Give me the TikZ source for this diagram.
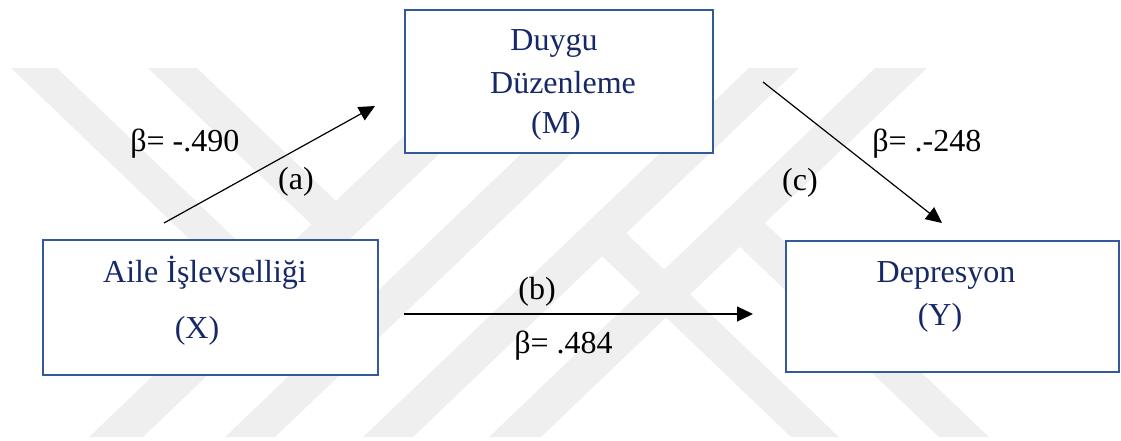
\documentclass[tikz,border=0pt]{standalone}
\usepackage{fontspec}
\setmainfont{Liberation Serif}
\usetikzlibrary{arrows.meta}
\definecolor{boxline}{RGB}{52,88,156}
\definecolor{boxtext}{RGB}{22,40,102}
\definecolor{mark}{RGB}{239,239,239}
\begin{document}
\begin{tikzpicture}[x=0.5pt,y=-0.5pt,
  every node/.style={font=\fontsize{16}{19}\selectfont},
  varbox/.style={draw=boxline,line width=1.2pt,fill=white,inner sep=0pt},
  vartext/.style={text=boxtext,anchor=base,inner sep=0pt},
  coef/.style={text=black,anchor=base west,inner sep=0pt},
  pathtag/.style={text=black,anchor=base,inner sep=0pt},
  link/.style={line width=0.6pt,-{Triangle[length=8pt,width=7.5pt]}},
  band/.style={fill=mark,draw=none}]
\useasboundingbox (0,0) rectangle (1121,440);

% faint striped emblem in the background
\fill[band] (89,437) -- (143,437) -- (529,68) -- (475,68) -- cycle;
\fill[band] (225,437) -- (275,437) -- (661,68) -- (611,68) -- cycle;
\fill[band] (363,437) -- (413,437) -- (799,68) -- (749,68) -- cycle;
\fill[band] (489,437) -- (541,437) -- (927,68) -- (875,68) -- cycle;
\fill[band] (11,68) -- (57,68) -- (299,300) -- (253,300) -- cycle;
\fill[band] (148,68) -- (197,68) -- (360,224) -- (311,224) -- cycle;
\fill[band] (791,437) -- (839,437) -- (626,233) -- (578,233) -- cycle;
\fill[band] (939,437) -- (989,437) -- (765,223) -- (715,223) -- cycle;

% variable boxes
\node[varbox,minimum width=154pt,minimum height=71.5pt] (M) at (559,81.5) {};
\node[varbox,minimum width=167.5pt,minimum height=67.5pt] (X) at (210.5,307.5) {};
\node[varbox,minimum width=166.5pt,minimum height=65.5pt] (Y) at (952.5,306.5) {};

\node[vartext] (m1) at (554,50) {Duygu};
\node[vartext] (m2) at (563,93) {Düzenleme};
\node[vartext] (m3) at (556,133) {(M)};
\node[vartext] (x1) at (205,282) {Aile İşlevselliği};
\node[vartext] (x2) at (197,338) {(X)};
\node[vartext] (y1) at (946,282) {Depresyon};
\node[vartext] (y2) at (940,325) {(Y)};

% path arrows
\coordinate (aS) at (164,223);
\coordinate (aE) at (375,106);
\coordinate (bS) at (404,314);
\coordinate (bE) at (753,314);
\coordinate (cS) at (763,82);
\coordinate (cE) at (942,223);
\draw[link] (aS) -- (aE);
\draw[link] (bS) -- (bE);
\draw[link] (cS) -- (cE);

% coefficients and path labels
\node[coef] (ba) at (130,151) {β= -.490};
\node[pathtag] (ta) at (296,189) {(a)};
\node[pathtag] (tb) at (537,299) {(b)};
\node[coef] (bb) at (514,353) {β= .484};
\node[pathtag] (tc) at (800,190) {(c)};
\node[coef] (bc) at (872,151) {β= .-248};
\end{tikzpicture}
\end{document}
